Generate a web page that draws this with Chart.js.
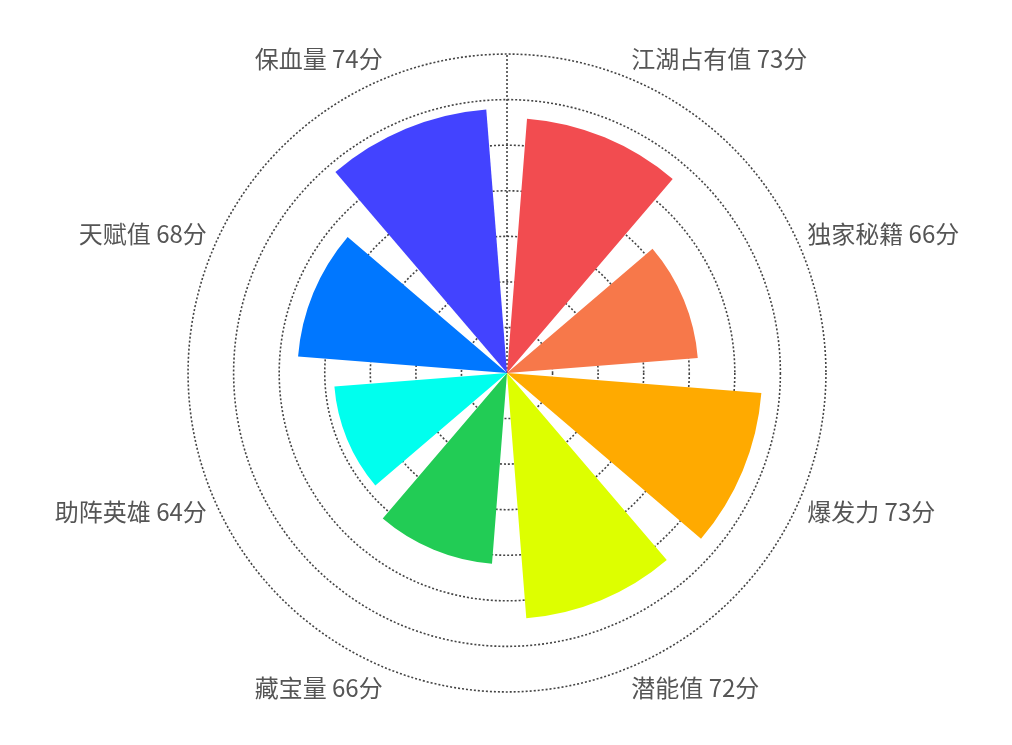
<!DOCTYPE html>
<html>
<head>
<meta charset="utf-8">
<script src="https://cdn.jsdelivr.net/npm/chart.js@4"></script>
<style>
  html, body { margin: 0; padding: 0; background: #fff; }
  #wrap { width: 1012px; height: 745px; position: relative; }
</style>
</head>
<body>
<div id="wrap"><canvas id="roseChart"></canvas></div>
<script>
// categorías y puntajes (en sentido horario desde arriba)
var categories = ['江湖占有值', '独家秘籍', '爆发力', '潜能值', '藏宝量', '助阵英雄', '天赋值', '保血量'];
var scores = [73, 66, 73, 72, 66, 64, 68, 74];
var colors = ['#F24C50', '#F7784A', '#FFAA00', '#DDFF00', '#22CC55', '#00FFEE', '#0077FF', '#4343FF'];

// escala radial
var scaleMin = 45;
var scaleMax = 80;
var scaleStep = 5;

// ancho angular de cada sector y del hueco (grados)
var sectorAngle = 36;
var gapAngle = 9;

// cada categoría = medio hueco + sector + medio hueco
var labels = [];
var values = [];
var bg = [];
var angles = [];
categories.forEach(function (name, i) {
  labels.push('', name + ' ' + scores[i] + '分', '');
  values.push(scaleMin, scores[i], scaleMin);
  bg.push('rgba(0,0,0,0)', colors[i], 'rgba(0,0,0,0)');
  angles.push(gapAngle / 2, sectorAngle, gapAngle / 2);
});

var ctx = document.getElementById('roseChart').getContext('2d');

var roseChart = new Chart(ctx, {
  type: 'polarArea',
  data: {
    labels: labels,
    datasets: [{
      data: values,
      backgroundColor: bg,
      borderWidth: 0,
      angle: angles
    }]
  },
  options: {
    responsive: true,
    maintainAspectRatio: false,
    animation: false,
    layout: { padding: { top: 44, bottom: 43, left: 2, right: 0 } },
    plugins: {
      legend: { display: false },
      tooltip: { enabled: false }
    },
    scales: {
      r: {
        min: scaleMin,
        max: scaleMax,
        beginAtZero: false,
        startAngle: 0,
        ticks: { display: false, stepSize: scaleStep },
        grid: { circular: true, color: '#444', lineWidth: 1.6 },
        border: { dash: [2, 2] },
        angleLines: {
          display: true,
          color: '#444',
          lineWidth: function (c) { return c.index === 0 ? 1.6 : 0; },
          borderDash: [2, 2]
        },
        pointLabels: {
          display: true,
          centerPointLabels: true,
          padding: 6,
          color: '#555',
          font: function (c) {
            return { family: '"Noto Sans CJK SC", "Noto Sans", sans-serif', size: c.index % 3 === 1 ? 24 : 1 };
          }
        }
      }
    }
  }
});
</script>
</body>
</html>
